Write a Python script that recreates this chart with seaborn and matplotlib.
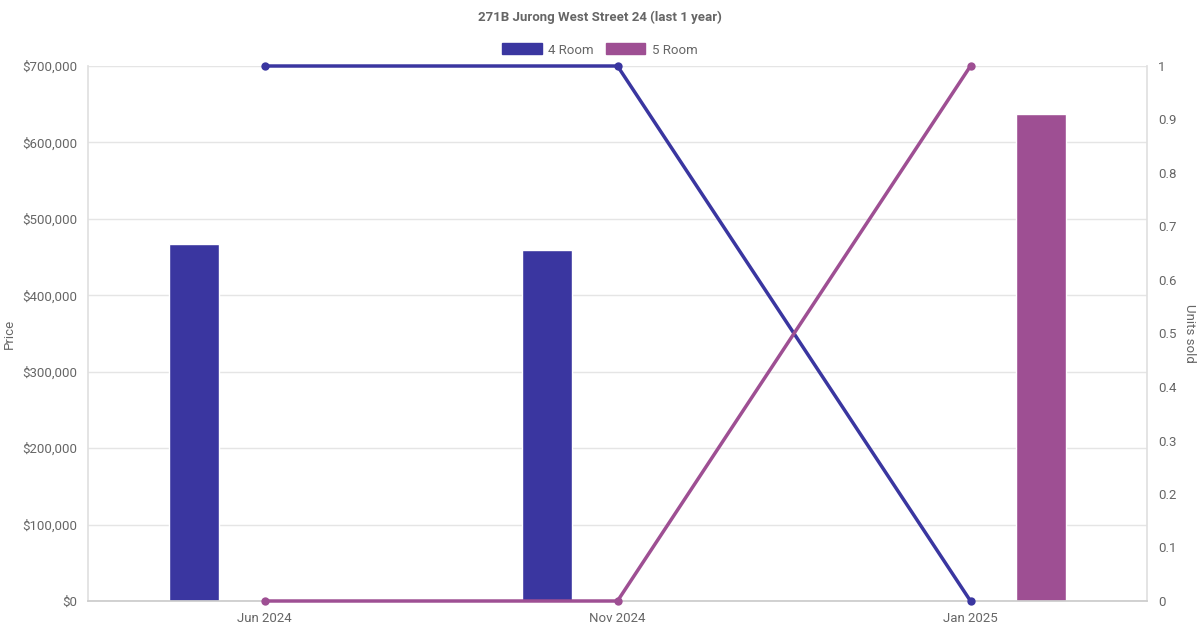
import pandas as pd
import numpy as np
import matplotlib
matplotlib.use('Agg')
import matplotlib.pyplot as plt
import seaborn as sns
from matplotlib.ticker import FuncFormatter, MultipleLocator
from matplotlib.patches import Patch

months = ['Jun 2024', 'Nov 2024', 'Jan 2025']
flat_types = ['4 Room', '5 Room']
colors = ['#3a36a0', '#9e4f93']

# average price per month (only months with sales)
price_4room = [467000, 459000, None]
price_5room = [None, None, 637000]

# units sold per month
units_4room = [1, 1, 0]
units_5room = [0, 0, 1]

sns.set_theme(style='white')
plt.rcParams['font.family'] = ['Roboto', 'DejaVu Sans']

rows = []
for m, p4, p5 in zip(months, price_4room, price_5room):
    if p4 is not None:
        rows.append({'Month': m, 'Type': '4 Room', 'Price': p4})
    if p5 is not None:
        rows.append({'Month': m, 'Type': '5 Room', 'Price': p5})
bars = pd.DataFrame(rows)

lines = pd.DataFrame({
    'x': list(range(len(months))) * 2,
    'Type': ['4 Room'] * len(months) + ['5 Room'] * len(months),
    'Units': units_4room + units_5room,
})

fig = plt.figure(figsize=(12, 6.3), dpi=100)
ax = fig.add_axes([88 / 1200, 29 / 630, 1059 / 1200, 535 / 630])

sns.barplot(data=bars, x='Month', y='Price', hue='Type', order=months,
            hue_order=flat_types, palette=colors, width=0.8, gap=0.645,
            dodge=True, saturation=1, legend=False, ax=ax)
ax.set_xlim(-0.5, 2.5)
ax.set_ylim(0, 700000)
ax.yaxis.set_major_locator(MultipleLocator(100000))
ax.yaxis.set_major_formatter(FuncFormatter(lambda v, p: '${:,.0f}'.format(v)))
ax.set_xlabel('')
ax.set_ylabel('Price', color='#666666', fontsize=9.5)
ax.grid(axis='y', color='#e5e5e5', linewidth=1)
ax.set_axisbelow(True)
ax.tick_params(axis='both', colors='#666666', labelsize=9.5, length=0, pad=8)
ax.spines['top'].set_visible(False)
ax.spines['left'].set_color('#e0e0e0')
ax.spines['right'].set_color('#e0e0e0')
ax.spines['bottom'].set_color('#cccccc')

ax2 = ax.twinx()
sns.lineplot(data=lines, x='x', y='Units', hue='Type', hue_order=flat_types,
             palette=colors, marker='o', markersize=6, markeredgewidth=0,
             linewidth=2.5, legend=False, ax=ax2)
for ln in ax2.lines:
    ln.set_clip_on(False)
ax2.set_ylim(0, 1)
ax2.yaxis.set_major_locator(MultipleLocator(0.1))
ax2.yaxis.set_major_formatter(FuncFormatter(lambda v, p: '{:g}'.format(round(v, 1))))
ax2.set_ylabel('Units sold', color='#666666', fontsize=9.5, rotation=270, labelpad=14)
ax2.tick_params(axis='y', colors='#666666', labelsize=9.5, length=0, pad=8)
for s in ax2.spines.values():
    s.set_visible(False)
ax2.set_xlim(-0.5, 2.5)
ax2.set_xlabel('')
ax.set_xticks(range(len(months)))
ax.set_xticklabels(months)

handles = [Patch(facecolor=c, edgecolor=c, label=t) for t, c in zip(flat_types, colors)]
fig.legend(handles=handles, loc='center', bbox_to_anchor=(0.5, 1 - 50 / 630),
           ncol=2, frameon=False, fontsize=9.5, labelcolor='#666666',
           handlelength=3.0, handleheight=0.9, handletextpad=0.5, columnspacing=0.9)
fig.text(0.5, 1 - 17 / 630, '271B Jurong West Street 24 (last 1 year)',
         ha='center', va='center', fontsize=9.5, fontweight='bold', color='#666666')

fig.savefig('out.png', dpi=100)
